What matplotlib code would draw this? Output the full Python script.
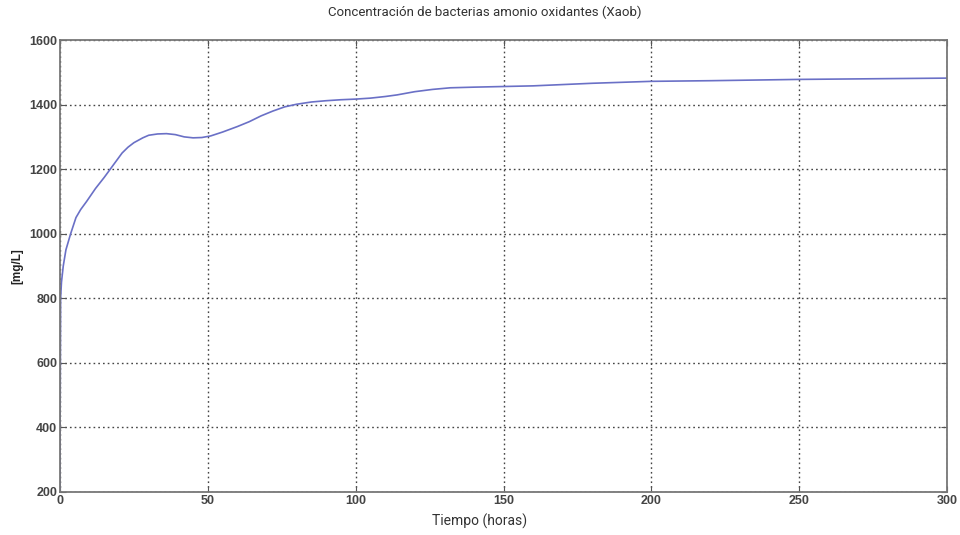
import matplotlib
matplotlib.use("Agg")
import matplotlib.pyplot as plt

# Data
t_hours = [0, 0.05, 0.2, 0.5, 1.1, 2, 3.6, 5.4, 7, 9, 12, 15, 17, 19, 21, 23, 25, 28, 30, 33,
           36, 39, 42, 45, 48, 51, 55, 60, 64, 68, 72, 76, 80, 85, 90, 95, 100, 105, 110, 114,
           120, 126, 132, 140, 150, 160, 170, 180, 190, 200, 220, 250, 275, 300]
xaob = [200, 430, 800, 850, 900, 950, 1000, 1050, 1075, 1100, 1140, 1175, 1200, 1225, 1250, 1268, 1282, 1297, 1305, 1309,
        1310, 1307, 1300, 1297, 1298, 1303, 1315, 1332, 1347, 1365, 1380, 1393, 1401, 1408, 1412, 1415, 1417, 1420, 1425, 1430,
        1440, 1447, 1452, 1454, 1456, 1458, 1462, 1466, 1469, 1472, 1474, 1478, 1480, 1482]
x_ticks = [0, 50, 100, 150, 200, 250, 300]
y_ticks = [200, 400, 600, 800, 1000, 1200, 1400, 1600]

title = "Concentración de bacterias amonio oxidantes (Xaob)"
xlabel = "Tiempo (horas)"
ylabel = "[mg/L]"

fig = plt.figure(figsize=(9.6, 5.35), dpi=100)
ax = fig.add_axes([0.0625, 0.0804, 0.924, 0.8448])
ax.plot(t_hours, xaob, color="#6a70c6", lw=1.2)
ax.set_xlim(0, 300)
ax.set_ylim(200, 1600)
ax.set_xticks(x_ticks)
ax.set_yticks(y_ticks)
ax.grid(True, color="#444444", linestyle=(0, (1.2, 2.2)), linewidth=1.0)
for s in ax.spines.values():
    s.set_color("#777777")
    s.set_linewidth(1.3)
ax.tick_params(direction="in", length=4, color="#555555", labelsize=9, labelcolor="#444444", pad=2,
               top=True, right=True)
for lab in ax.get_xticklabels() + ax.get_yticklabels():
    lab.set_family("Liberation Sans")
    lab.set_fontweight("bold")
ax.set_ylabel(ylabel, family="Liberation Sans", fontweight="bold", fontsize=8.5, color="#222222", labelpad=4)

fig.text(0.505, 0.977, title, ha="center", va="center", family="Roboto", fontweight="normal",
         fontsize=9.5, color="#333333")
fig.text(0.5, 0.026, xlabel, ha="center", va="center", family="Roboto", fontweight="normal",
         fontsize=10, color="#333333")

fig.savefig("out.png", dpi=100)
